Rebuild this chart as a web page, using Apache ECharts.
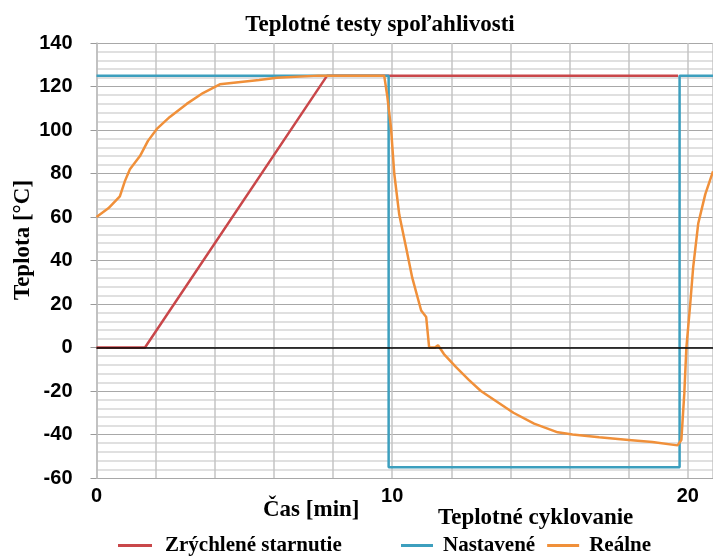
<!DOCTYPE html>
<html>
<head>
<meta charset="utf-8">
<script src="https://cdn.jsdelivr.net/npm/echarts@6/dist/echarts.min.js"></script>
<style>
  html, body { margin: 0; padding: 0; background: #fff; }
  #main { width: 713px; height: 557px; }
</style>
</head>
<body>
<div id="main"></div>
<script>
// data: [time in min, temperature in °C]
var agingSeries = [[0, 0], [1.64, 0], [7.8, 125], [19.67, 125]];
var setSeries = [[0, 125], [9.88, 125], [9.88, -55], [19.72, -55], [19.72, 125], [20.85, 125]];
var realSeries = [
  [0, 60], [0.4, 64], [0.79, 69.5], [0.96, 76.5], [1.13, 82], [1.47, 88], [1.74, 95],
  [2.04, 100.5], [2.48, 106], [3.05, 112], [3.6, 117], [4.17, 121], [5.5, 123],
  [6.1, 124], [7.5, 125], [9.73, 125], [9.83, 116], [9.96, 101], [10.07, 80],
  [10.24, 61], [10.47, 46], [10.68, 32], [10.98, 17], [11.15, 14], [11.25, 0],
  [11.45, 0], [11.55, 1], [11.75, -3], [12.16, -9], [12.6, -15], [13.0, -20],
  [14.1, -30], [14.8, -35], [15.6, -39], [16.1, -40], [17.0, -41.3], [18.0, -42.5],
  [18.8, -43.5], [19.65, -45], [19.78, -42.5], [19.88, -21], [19.95, 0],
  [20.08, 20], [20.18, 37], [20.35, 57], [20.59, 70.5], [20.85, 81]
];
var xTickLabels = ['0', '10', '20'];
var names = ['Zrýchlené starnutie', 'Nastavené', 'Reálne'];

var serif = '"Liberation Serif", "DejaVu Serif", serif';
var sans = '"Liberation Sans", Arial, sans-serif';

var chart = echarts.init(document.getElementById('main'));

chart.setOption({
  animation: false,
  backgroundColor: '#fff',
  title: {
    text: 'Teplotné testy spoľahlivosti',
    left: 375,
    textAlign: 'center',
    top: 9,
    textStyle: { fontFamily: serif, fontWeight: 'bold', fontSize: 23, color: '#000' }
  },
  grid: { left: 96.5, top: 43, right: 0, bottom: 79 },
  legend: [{
    data: [names[0]],
    left: 113, top: 530,
    icon: 'rect', itemWidth: 34, itemHeight: 3, itemGap: 8,
    textStyle: { fontFamily: serif, fontWeight: 'bold', fontSize: 21, color: '#000', padding: [0, 0, 0, 8] }
  }, {
    data: [names[1], names[2]],
    left: 396, top: 530,
    icon: 'rect', itemWidth: 32, itemHeight: 3, itemGap: 12,
    textStyle: { fontFamily: serif, fontWeight: 'bold', fontSize: 21, color: '#000', padding: [0, 0, 0, 5] }
  }],
  graphic: [{
    type: 'text', left: 263, top: 499,
    style: { text: 'Čas [min]', font: 'bold 23px ' + serif, fill: '#000' }
  }, {
    type: 'text', left: 438, top: 507,
    style: { text: 'Teplotné cyklovanie', font: 'bold 23px ' + serif, fill: '#000' }
  }, {
    type: 'text', x: 23, y: 240, rotation: Math.PI / 2,
    style: {
      text: 'Teplota [°C]', font: 'bold 23px ' + serif, fill: '#000',
      textAlign: 'center', textVerticalAlign: 'middle'
    }
  }],
  xAxis: {
    type: 'value', min: 0, max: 20.85, interval: 2,
    axisLine: { show: false },
    axisTick: { show: false },
    axisLabel: {
      margin: 8,
      showMaxLabel: false,
      formatter: function (v) { return xTickLabels.indexOf(String(v)) >= 0 ? String(v) : ''; },
      fontFamily: sans, fontWeight: 'bold', fontSize: 20, color: '#000'
    },
    splitLine: { show: true, lineStyle: { color: '#c4c4c4', width: 1.5 } }
  },
  yAxis: {
    type: 'value', min: -60, max: 140, interval: 20,
    axisLine: { show: true, lineStyle: { color: '#bdbdbd', width: 1.5 } },
    axisTick: { show: true, length: 6, lineStyle: { color: '#9a9a9a' } },
    axisLabel: { margin: 24, fontFamily: sans, fontWeight: 'bold', fontSize: 20, color: '#000' },
    splitLine: { show: true, lineStyle: { color: '#a8a8a8', width: 1.2 } },
    minorTick: { show: false, splitNumber: 5 },
    minorSplitLine: { show: true, lineStyle: { color: '#d6d6d6', width: 1.5 } }
  },
  series: [{
    name: names[0], type: 'line', data: agingSeries,
    symbol: 'none', color: '#c9474a',
    lineStyle: { width: 2.5 },
    z: 2,
    markLine: {
      silent: true, symbol: 'none', label: { show: false },
      lineStyle: { color: '#000', type: 'solid', width: 1.5 },
      data: [{ yAxis: 0 }]
    }
  }, {
    name: names[1], type: 'line', data: setSeries,
    symbol: 'none', color: '#3d9fbe',
    lineStyle: { width: 2.5 },
    z: 3
  }, {
    name: names[2], type: 'line', data: realSeries,
    symbol: 'none', color: '#f0903a',
    lineStyle: { width: 2.5 },
    z: 4
  }]
});
</script>
</body>
</html>
